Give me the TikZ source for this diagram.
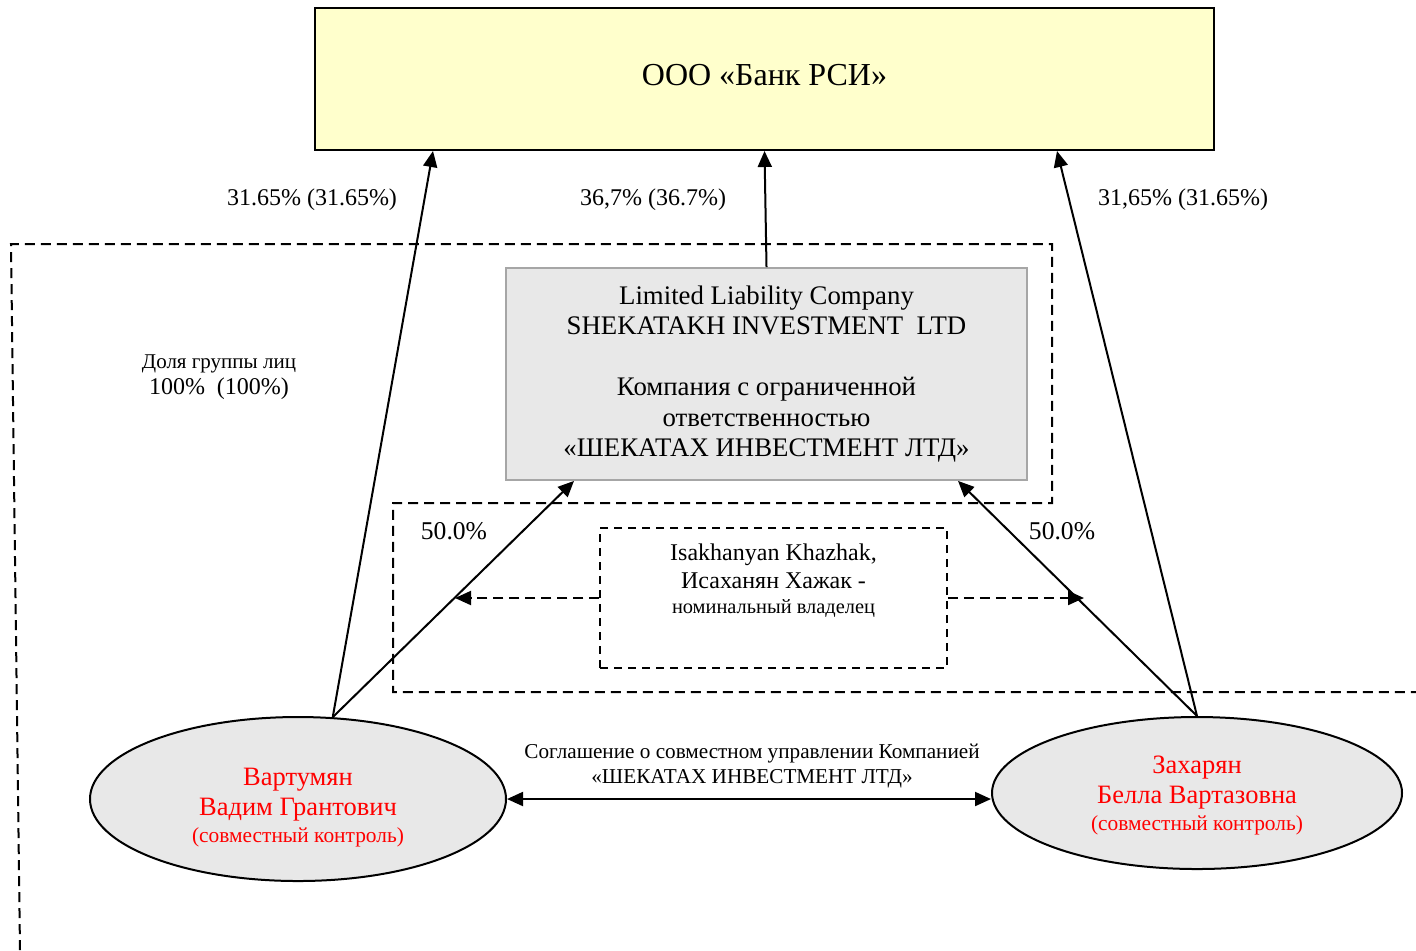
\documentclass[tikz,border=0pt]{standalone}
\usepackage{fontspec}
\setmainfont{Liberation Serif}
\usetikzlibrary{arrows.meta,shapes.geometric,calc}
\definecolor{bankfill}{HTML}{FFFFCC}
\definecolor{boxgray}{HTML}{E8E8E8}
\definecolor{edgegray}{HTML}{A6A6A6}
\definecolor{namered}{HTML}{FF0000}
\newcommand{\fsz}[2]{\fontsize{#1}{#2}\selectfont}
\begin{document}
\begin{tikzpicture}[x=0.5pt,y=-0.5pt,
  bankbox/.style={draw=black,line width=1pt,fill=bankfill,inner sep=0pt,
    minimum width=449.5pt,minimum height=71pt,align=center,font=\fsz{16}{19}},
  firmbox/.style={draw=edgegray,line width=0.9pt,fill=boxgray,inner sep=0pt,
    minimum width=260.5pt,minimum height=106pt,align=center,font=\fsz{13.4}{15.25}},
  nombox/.style={draw=black,line width=0.75pt,dash pattern=on 4pt off 3pt,
    inner sep=0pt,minimum width=173.5pt,minimum height=70pt},
  person/.style={ellipse,draw=black,line width=1pt,fill=boxgray,inner sep=0pt,
    align=center,text=namered,font=\fsz{13.25}{15}},
  plain/.style={inner sep=0pt,align=center},
  conn/.style={line width=1pt,-{Triangle[length=8pt,width=7pt]}},
  biconn/.style={line width=1pt,{Triangle[length=8pt,width=7pt]}-{Triangle[length=8pt,width=7pt]}},
  nomconn/.style={line width=1pt,dash pattern=on 5pt off 3pt,-{Triangle[length=8pt,width=7pt]}},
  grp/.style={line width=1pt,dash pattern=on 5pt off 3pt}]
\useasboundingbox (0,0) rectangle (1416,950);

% group outline
\draw[grp] (20,950) -- (11,244) -- (1052,244) -- (1052,503) -- (393,503) -- (393,692) -- (1416,692);

% nodes
\node[bankbox] (bank) at (764.5,79) {ООО «Банк РСИ»\rule[-4pt]{0pt}{0pt}};
\node[firmbox] (sh) at (766.5,374) {Limited Liability Company\\
SHEKATAKH INVESTMENT~~LTD\\ \mbox{}\\
Компания с ограниченной\\ ответственностью\\ «ШЕКАТАХ ИНВЕСТМЕНТ ЛТД»};
\node[nombox] (nom) at (773.5,598) {};
\node[plain,font=\fsz{12}{14}] (nomtext) at (773.5,581) {Isakhanyan Khazhak,\\ Исаханян Хажак -\\[-1.5pt]
{\fsz{10.2}{12}номинальный владелец}};

\node[person,minimum width=208pt,minimum height=82pt] (vart) at (298,799)
  {\rule{0pt}{17.5pt}Вартумян\\ Вадим Грантович\\[-1.5pt] {\fsz{10.7}{12}(совместный контроль)}};
\node[person,minimum width=205pt,minimum height=76pt] (zach) at (1197,793)
  {\rule{0pt}{11pt}Захарян\\ Белла Вартазовна\\[-1.5pt] {\fsz{10.7}{12}(совместный контроль)}};

% labels
\node[plain,font=\fsz{12}{14}] (l1) at (312,200) {31.65\% (31.65\%)};
\node[plain,font=\fsz{12}{14}] (l2) at (653,200) {36,7\% (36.7\%)};
\node[plain,font=\fsz{12}{14}] (l3) at (1183,200) {31,65\% (31.65\%)};
\node[plain,font=\fsz{10.5}{13}] (grpl) at (219,377) {Доля группы лиц\\ {\fsz{12}{13}100\%~~(100\%)}};
\node[plain,font=\fsz{12.8}{15}] (p1) at (454,531) {50.0\%};
\node[plain,font=\fsz{12.8}{15}] (p2) at (1062,531) {50.0\%};
\node[plain,font=\fsz{10.6}{12.5}] (agr) at (752,766) {Соглашение о совместном управлении Компанией\\ «ШЕКАТАХ ИНВЕСТМЕНТ ЛТД»};

% connectors
\draw[conn] (vart.67) -- ($(bank.south)+(-331.5,0)$);
\draw[conn] (vart.67) -- ($(sh.south)+(-192.5,0)$);
\draw[conn] (zach.north) -- ($(bank.south)+(292.5,0)$);
\draw[conn] (zach.north) -- ($(sh.south)+(191.5,0)$);
\draw[conn] (sh.north) -- (bank.south);
\draw[biconn] (vart.east) -- (vart.east -| zach.west);
\coordinate (nomL) at (455,598);
\coordinate (nomR) at (1084,598);
\draw[nomconn] (nom.west) -- (nomL);
\draw[nomconn] (nom.east) -- (nomR);
\end{tikzpicture}
\end{document}
